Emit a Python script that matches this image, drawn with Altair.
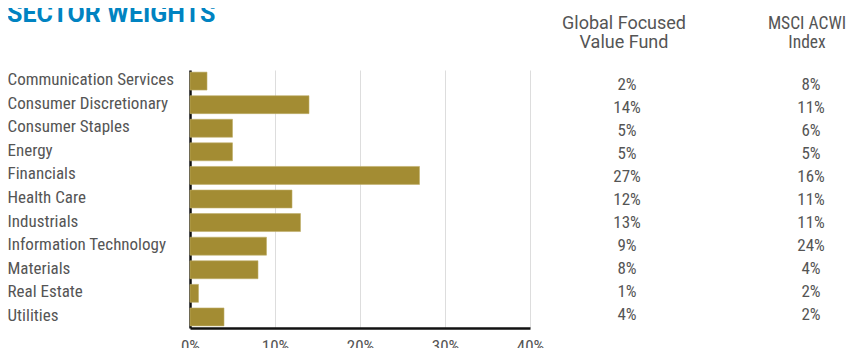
import altair as alt
import pandas as pd

sectors = ["Communication Services", "Consumer Discretionary", "Consumer Staples", "Energy",
           "Financials", "Health Care", "Industrials", "Information Technology",
           "Materials", "Real Estate", "Utilities"]
fund = [2, 14, 5, 5, 27, 12, 13, 9, 8, 1, 4]
index = [8, 11, 6, 5, 16, 11, 11, 24, 4, 2, 2]
x_ticks = [0, 10, 20, 30, 40]
title_text = "SECTOR WEIGHTS"
fund_header = ["Global Focused", "Value Fund"]
index_header = ["MSCI ACWI", "Index"]

df = pd.DataFrame({
    "sector": sectors,
    "fund": fund,
    "index": index,
    "fund_lbl": [f"{v}%" for v in fund],
    "index_lbl": [f"{v}%" for v in index],
})

NARROW = "Roboto Condensed, DejaVu Sans Condensed, Liberation Sans Narrow, Roboto"
REG = "Roboto, Liberation Sans"
GRAY = "#555555"

yenc = alt.Y("sector:N", sort=sectors,
             scale=alt.Scale(paddingInner=0.24, paddingOuter=0.09),
             axis=alt.Axis(title=None, labelAlign="left", labelPadding=183, labelLimit=0,
                           labelFont=NARROW, labelFontSize=17, labelColor=GRAY,
                           ticks=False, domain=True, domainColor="#111111",
                           domainWidth=2.5, labelBaseline="middle", labelOffset=-1))

bars = alt.Chart(df).mark_bar(color="#A38C33", stroke="#BFAE6A", strokeWidth=0.6).encode(
    x=alt.X("fund:Q", scale=alt.Scale(domain=[0, 40], nice=False),
            axis=alt.Axis(title=None, values=x_ticks, labelExpr="datum.value + '%'",
                          labelFont=NARROW, labelFontSize=17, labelColor=GRAY,
                          labelFlush=False,
                          ticks=False, labelPadding=10, domainColor="#111111",
                          domainWidth=2.5, grid=True, gridColor="#dddddd",
                          gridWidth=1)),
    y=yenc,
)

ytxt = alt.Y("sector:N", sort=sectors, axis=None,
             scale=alt.Scale(type="point", range=[15, 245], padding=0))

fund_txt = alt.Chart(df).mark_text(font=NARROW, fontSize=17, color=GRAY,
                                   align="center", baseline="middle").encode(
    x=alt.value(437), y=ytxt, text="fund_lbl:N")
index_txt = alt.Chart(df).mark_text(font=NARROW, fontSize=17, color=GRAY,
                                    align="center", baseline="middle").encode(
    x=alt.value(621), y=ytxt, text="index_lbl:N")

hdr_f = pd.DataFrame({"t": fund_header, "xp": [434, 434], "yp": [-41, -22]})
hdr_i = pd.DataFrame({"t": index_header, "xp": [617, 617], "yp": [-41, -22]})
headers_f = alt.Chart(hdr_f).mark_text(font=REG, fontSize=18, color=GRAY,
                                       align="center", baseline="alphabetic").encode(
    x=alt.X("xp:Q", scale=None), y=alt.Y("yp:Q", scale=None), text="t:N")
headers_i = alt.Chart(hdr_i).mark_text(font=NARROW, fontSize=17.5, color=GRAY,
                                       align="center", baseline="alphabetic").encode(
    x=alt.X("xp:Q", scale=None), y=alt.Y("yp:Q", scale=None), text="t:N")

ttl = alt.Chart(pd.DataFrame({"t": [title_text]})).mark_text(
    font="Roboto", fontSize=25, fontWeight="bold", color="#0083C1",
    align="left", baseline="alphabetic").encode(
    x=alt.value(-183), y=alt.value(-48), text="t:N")

chart = alt.layer(bars, alt.layer(fund_txt, index_txt), headers_f, headers_i, ttl).resolve_scale(
    y="independent"
).properties(
    width=340, height=258,
    autosize=alt.AutoSizeParams(type="none"),
    padding={"left": 182, "top": 62, "right": 318, "bottom": 20},
).configure_view(stroke=None)

chart.save("out.html", embed_options={"renderer": "svg", "actions": False})
